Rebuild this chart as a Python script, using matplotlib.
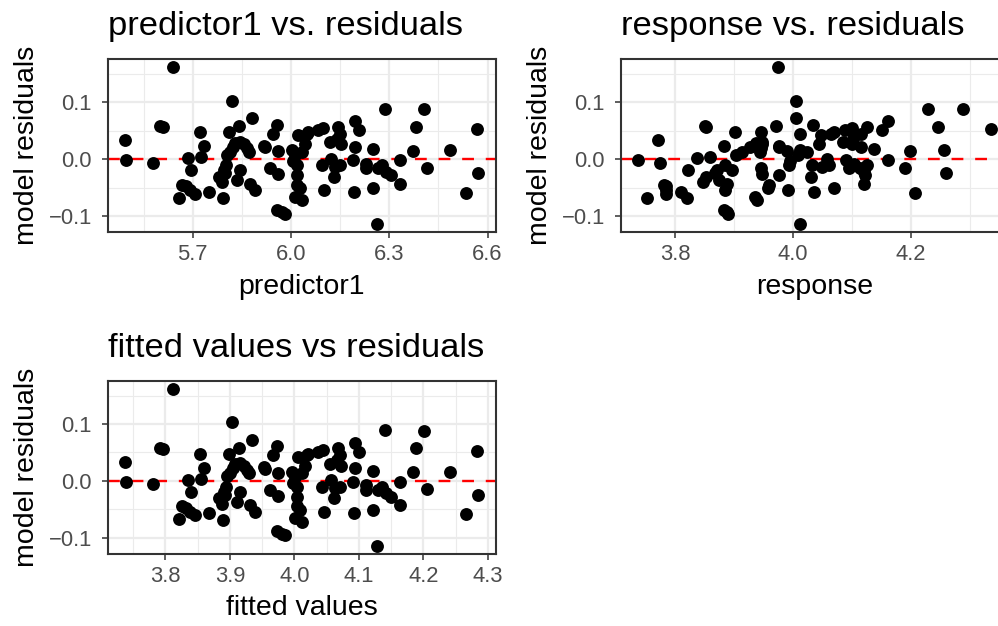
import numpy as np
import matplotlib
matplotlib.use('Agg')
import matplotlib.pyplot as plt
from matplotlib.ticker import FixedLocator

plt.rcParams['font.family'] = ['Liberation Sans', 'DejaVu Sans']

# values
predictor1 = [5.494, 5.497, 5.578, 5.601, 5.609, 5.641, 5.657, 5.667, 5.680, 5.692,
              5.707, 5.684, 5.695, 5.721, 5.726, 5.735, 5.748, 5.779, 5.789, 5.799,
              5.794, 5.792, 5.801, 5.809, 5.819, 5.804, 5.814, 5.824, 5.829, 5.840,
              5.845, 5.855, 5.865, 5.873, 5.845, 5.835, 5.875, 5.890, 5.880, 5.916,
              5.921, 5.936, 5.944, 5.956, 5.961, 5.961, 5.956, 5.972, 5.982, 6.002,
              6.012, 6.005, 6.017, 6.017, 6.017, 6.027, 6.032, 6.012, 6.022, 6.032,
              6.043, 6.048, 6.053, 6.083, 6.098, 6.093, 6.100, 6.119, 6.139, 6.144,
              6.149, 6.154, 6.122, 6.134, 6.149, 6.132, 6.195, 6.208, 6.195, 6.190,
              6.193, 6.249, 6.230, 6.230, 6.266, 6.278, 6.291, 6.305, 6.249, 6.286,
              6.261, 6.332, 6.332, 6.373, 6.383, 6.405, 6.415, 6.484, 6.533, 6.568,
              6.571]
residuals = [0.033, -0.002, -0.006, 0.058, 0.056, 0.162, -0.068, -0.045, -0.048, -0.054,
             -0.061, 0.002, -0.019, 0.048, 0.003, 0.023, -0.057, -0.031, -0.040, -0.025,
             -0.019, -0.069, -0.010, 0.047, 0.103, 0.008, 0.013, 0.022, 0.029, 0.058,
             0.031, 0.027, 0.019, 0.013, -0.019, -0.037, -0.043, -0.054, 0.072, 0.024,
             0.021, -0.016, 0.045, 0.061, 0.014, -0.027, -0.089, -0.093, -0.096, 0.016,
             0.007, -0.003, -0.010, -0.028, -0.045, -0.051, -0.072, -0.066, 0.042, 0.013,
             0.027, 0.045, 0.048, 0.051, 0.055, -0.010, -0.054, 0.030, 0.036, 0.057,
             0.045, 0.027, 0.001, -0.013, -0.010, -0.031, 0.067, 0.051, 0.022, -0.002,
             -0.057, 0.017, -0.008, -0.016, -0.016, -0.010, -0.022, -0.028, -0.051, 0.089,
             -0.115, -0.002, -0.043, 0.015, 0.057, 0.088, -0.015, 0.016, -0.059, 0.053,
             -0.025]

# coefficients of the fitted line (fitted values are linear in predictor1)
intercept = 0.9462
slope = 0.5081

p1 = np.array(predictor1)
res = np.array(residuals)
fitted = intercept + slope * p1
response = fitted + res

p1_ticks = [5.7, 6.0, 6.3, 6.6]
p1_minor = [5.55, 5.85, 6.15, 6.45]
resp_ticks = [3.8, 4.0, 4.2]
resp_minor = [3.9, 4.1, 4.3]
fit_ticks = [3.8, 3.9, 4.0, 4.1, 4.2, 4.3]
fit_minor = [3.75, 3.85, 3.95, 4.05, 4.15, 4.25]
y_ticks = [-0.1, 0.0, 0.1]
y_minor = [-0.05, 0.05, 0.15]

W, H = 998, 626
fig = plt.figure(figsize=(W / 100, H / 100), dpi=100)


def panel(left, top, x, xt, xm, title, xlabel):
    width, height = 388, 173
    ax = fig.add_axes([left / W, 1 - (top + height) / H, width / W, height / H])
    ax.grid(which='major', color='#EBEBEB', lw=1.6, zorder=0)
    ax.grid(which='minor', color='#EBEBEB', lw=0.8, zorder=0)
    ax.set_axisbelow(True)
    ax.axhline(0, color='red', lw=1.7, dashes=(5, 5), zorder=2)
    ax.scatter(x, res, s=86, color='black', linewidths=0, zorder=3)
    ax.xaxis.set_major_locator(FixedLocator(xt))
    ax.xaxis.set_minor_locator(FixedLocator(xm))
    ax.yaxis.set_major_locator(FixedLocator(y_ticks))
    ax.yaxis.set_minor_locator(FixedLocator(y_minor))
    ax.set_xticklabels([f'{t:.1f}' for t in xt])
    ax.set_yticklabels([f'{t:.1f}'.replace('-', '\u2212') for t in y_ticks])
    ax.tick_params(which='major', length=4.3, width=1.1, color='#333333',
                   labelsize=15.8, labelcolor='#4D4D4D')
    ax.tick_params(axis='x', pad=4)
    ax.tick_params(axis='y', pad=7)
    ax.tick_params(which='minor', length=0)
    for s in ax.spines.values():
        s.set_color('#333333')
        s.set_linewidth(1.5)
    ax.set_xlim(min(x) - 0.05 * (max(x) - min(x)), max(x) + 0.05 * (max(x) - min(x)))
    ax.set_ylim(res.min() - 0.05 * np.ptp(res), res.max() + 0.05 * np.ptp(res))
    fig.text(left / W, 1 - (top - 24.3) / H, title, fontsize=24.8,
             ha='left', va='baseline')
    fig.text((left + width / 2) / W, 1 - (top + 234.2) / H, xlabel, fontsize=20.5,
             ha='center', va='baseline')
    fig.text((left - 73.5) / W, 1 - (top + height / 2) / H, 'model residuals',
             fontsize=20.5, rotation=90, rotation_mode='anchor',
             ha='center', va='baseline')
    return ax


panel(107.7, 59.3, p1, p1_ticks, p1_minor, 'predictor1 vs. residuals', 'predictor1')
panel(620.7, 59.3, response, resp_ticks, resp_minor, 'response vs. residuals', 'response')
panel(107.7, 381.0, fitted, fit_ticks, fit_minor, 'fitted values vs residuals', 'fitted values')

fig.savefig('out.png', dpi=100)
